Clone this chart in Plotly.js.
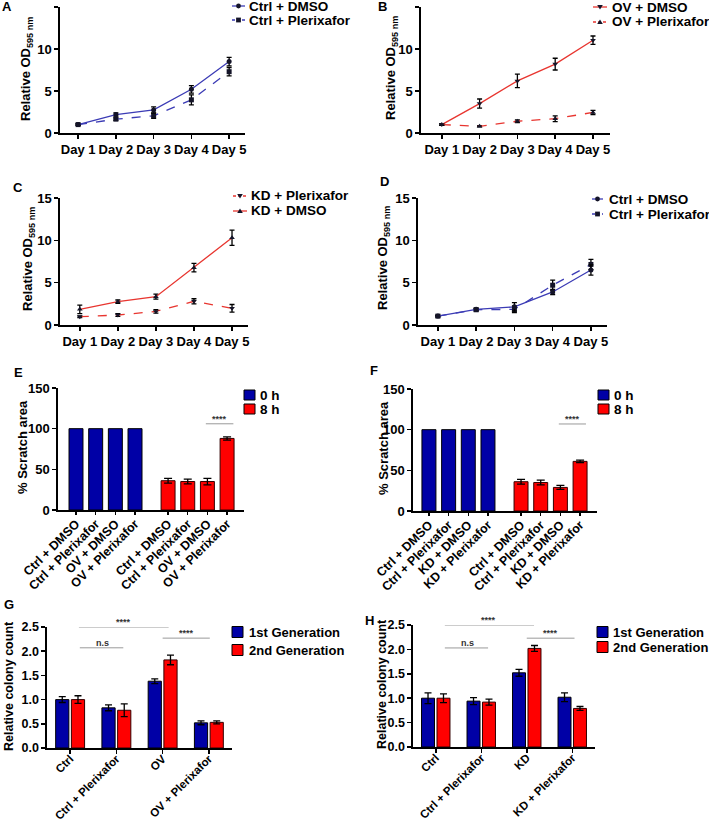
<!DOCTYPE html>
<html><head><meta charset="utf-8">
<script src="https://cdn.plot.ly/plotly-3.0.1.min.js"></script>
<style>html,body{margin:0;padding:0;background:#fff}#chart{width:709px;height:825px}</style>
</head><body><div id="chart"></div>
<script>
// ---------------- DATA ----------------
const days = ['Day 1', 'Day 2', 'Day 3', 'Day 4', 'Day 5'];

// Panel A
const aCtrlDmso = [1.0, 2.2, 2.75, 5.2, 8.5];
const aCtrlDmsoErr = [0.1, 0.2, 0.35, 0.45, 0.5];
const aCtrlPlx = [1.0, 1.65, 2.05, 3.95, 7.3];
const aCtrlPlxErr = [0.1, 0.15, 0.3, 0.6, 0.5];
// Panel B
const bOvDmso = [1.0, 3.5, 6.2, 8.2, 11.05];
const bOvDmsoErr = [0.1, 0.55, 0.8, 0.7, 0.5];
const bOvPlx = [1.0, 0.8, 1.4, 1.7, 2.45];
const bOvPlxErr = [0.1, 0.08, 0.15, 0.35, 0.25];
// Panel C
const cKdPlx = [0.98, 1.18, 1.6, 2.8, 1.97];
const cKdPlxErr = [0.1, 0.15, 0.2, 0.3, 0.45];
const cKdDmso = [1.85, 2.75, 3.35, 6.77, 10.3];
const cKdDmsoErr = [0.5, 0.2, 0.3, 0.5, 0.9];
// Panel D
const dCtrlDmso = [1.05, 1.85, 2.15, 3.9, 6.5];
const dCtrlDmsoErr = [0.08, 0.1, 0.5, 0.3, 0.6];
const dCtrlPlx = [1.05, 1.8, 1.85, 4.7, 7.15];
const dCtrlPlxErr = [0.08, 0.15, 0.4, 0.6, 0.6];

// Panel E / F (scratch)
const eLabels = ['Ctrl + DMSO', 'Ctrl + Plerixafor', 'OV + DMSO', 'OV + Plerixafor'];
const fLabels = ['Ctrl + DMSO', 'Ctrl + Plerixafor', 'KD + DMSO', 'KD + Plerixafor'];
const e0h = [100, 100, 100, 100];
const e8h = [36, 35, 35, 88];
const e8hErr = [3, 3, 4, 2];
const f0h = [100, 100, 100, 100];
const f8h = [36, 35, 29, 61];
const f8hErr = [3, 3, 2.5, 1.5];

// Panel G / H (colony)
const gGroups = ['Ctrl', 'Ctrl + Plerixafor', 'OV', 'OV + Plerixafor'];
const hGroups = ['Ctrl', 'Ctrl + Plerixafor', 'KD', 'KD + Plerixafor'];
const g1st = [1.00, 0.83, 1.38, 0.52];
const g1stErr = [0.06, 0.06, 0.05, 0.04];
const g2nd = [1.00, 0.78, 1.82, 0.53];
const g2ndErr = [0.08, 0.13, 0.10, 0.03];
const h1st = [1.00, 0.94, 1.52, 1.02];
const h1stErr = [0.11, 0.07, 0.07, 0.09];
const h2nd = [1.00, 0.92, 2.02, 0.79];
const h2ndErr = [0.09, 0.06, 0.06, 0.04];

// ---------------- STYLE / LAYOUT ----------------
const W = 709, H = 825;
const px = v => v / W, py = v => 1 - v / H;
const FONT = 'Liberation Sans, Arial, sans-serif';
const BLUE_LINE = '#3b3bb5', RED_LINE = '#e8352f';
const BAR_BLUE = '#0000a6', BAR_RED = '#ff0000';
const MK = '#141428';
const bf = s => ({family: FONT, size: s, color: '#000', weight: 'bold'});

const data = [];
const shapes = [];
const annotations = [];
const layout = {
  width: W, height: H, margin: {l: 0, r: 0, t: 0, b: 0},
  paper_bgcolor: '#fff', plot_bgcolor: 'rgba(0,0,0,0)',
  showlegend: false,
  font: bf(12),
  barmode: 'group', bargap: 0.32, bargroupgap: 0.16,
  shapes, annotations
};

const baseAxis = {
  showline: true, linecolor: '#000', linewidth: 1.6,
  ticks: 'outside', ticklen: 4, tickwidth: 1.5, tickcolor: '#000',
  showgrid: false, zeroline: false, fixedrange: true,
  tickfont: bf(13)
};
function sfx(n) { return n === 1 ? '' : String(n); }
function addAxes(n, x0, x1, y0, y1, xopt, yopt) {
  layout['xaxis' + sfx(n)] = Object.assign({}, baseAxis, {domain: [px(x0), px(x1)], anchor: 'y' + sfx(n)}, xopt);
  layout['yaxis' + sfx(n)] = Object.assign({}, baseAxis, {domain: [py(y1), py(y0)], anchor: 'x' + sfx(n)}, yopt);
}

// line panels
const odY = {range: [0, 15], tickvals: [0, 5, 10, 15]};
addAxes(1, 60, 245, 7, 133, {type: 'category', range: [-0.48, 4.42]}, odY);
addAxes(2, 421, 610, 7, 133, {type: 'category', range: [-0.55, 4.45]}, odY);
addAxes(3, 60, 248, 198, 325, {type: 'category', range: [-0.52, 4.42]}, odY);
addAxes(4, 418, 607, 198, 325, {type: 'category', range: [-0.52, 4.42]}, odY);

function lineTrace(n, y, err, color, dash, symbol) {
  data.push({
    type: 'scatter', mode: 'lines+markers', x: days, y,
    xaxis: 'x' + sfx(n), yaxis: 'y' + sfx(n),
    line: {color, width: 1.3, dash},
    marker: {symbol, size: 5, color: MK},
    error_y: {type: 'data', array: err, color: '#000', thickness: 1.3, width: 2.5},
    cliponaxis: false
  });
}
lineTrace(1, aCtrlPlx, aCtrlPlxErr, BLUE_LINE, 'dash', 'square');
lineTrace(1, aCtrlDmso, aCtrlDmsoErr, BLUE_LINE, 'solid', 'circle');
lineTrace(2, bOvPlx, bOvPlxErr, RED_LINE, 'dash', 'triangle-up');
lineTrace(2, bOvDmso, bOvDmsoErr, RED_LINE, 'solid', 'triangle-down');
lineTrace(3, cKdPlx, cKdPlxErr, RED_LINE, 'dash', 'triangle-down');
lineTrace(3, cKdDmso, cKdDmsoErr, RED_LINE, 'solid', 'triangle-up');
lineTrace(4, dCtrlPlx, dCtrlPlxErr, BLUE_LINE, 'dash', 'square');
lineTrace(4, dCtrlDmso, dCtrlDmsoErr, BLUE_LINE, 'solid', 'circle');

// scratch panels (positions: 4 bars, gap, 4 bars)
const GAP = 0.68, BW = 0.71;
const pos0 = e0h.map((_, i) => i);
const pos8 = e8h.map((_, i) => i + 4 + GAP);
const scratchX = {tickangle: -45, ticklen: 3, tickfont: bf(12.5), ticklabelstandoff: -3};
addAxes(5, 58, 244, 388, 510, Object.assign({range: [-0.915, 8.54], tickvals: pos0.concat(pos8), ticktext: eLabels.concat(eLabels)}, scratchX),
  {range: [0, 150], tickvals: [0, 50, 100, 150]});
addAxes(6, 413, 597, 389, 511, Object.assign({range: [-0.81, 8.54], tickvals: pos0.concat(pos8), ticktext: fLabels.concat(fLabels)}, scratchX),
  {range: [0, 150], tickvals: [0, 50, 100, 150]});

function scratchBars(n, y0, y8, err8) {
  data.push({type: 'bar', x: pos0, y: y0, width: BW, offset: -BW / 2, xaxis: 'x' + sfx(n), yaxis: 'y' + sfx(n),
    marker: {color: BAR_BLUE, line: {color: '#000', width: 1}}});
  data.push({type: 'bar', x: pos8, y: y8, width: BW, offset: -BW / 2, xaxis: 'x' + sfx(n), yaxis: 'y' + sfx(n),
    marker: {color: BAR_RED, line: {color: '#300', width: 1}},
    error_y: {type: 'data', array: err8, color: '#000', thickness: 1.3, width: 4}});
}
scratchBars(5, e0h, e8h, e8hErr);
scratchBars(6, f0h, f8h, f8hErr);

// colony panels
const colX = {type: 'category', range: [-0.5, 3.5], tickangle: -45, tickfont: bf(11.5), ticklabelstandoff: -6};
const colY = {range: [0, 2.5], tickvals: [0, 0.5, 1.0, 1.5, 2.0, 2.5], tickformat: '.1f', tickfont: bf(12.5)};
addAxes(7, 47, 232, 627, 748, colX, colY);
addAxes(8, 413, 595, 625, 747, colX, colY);
function colonyBars(n, groups, y1, e1, y2, e2) {
  data.push({type: 'bar', x: groups, y: y1, xaxis: 'x' + sfx(n), yaxis: 'y' + sfx(n),
    marker: {color: BAR_BLUE, line: {color: '#000', width: 1}},
    error_y: {type: 'data', array: e1, color: '#000', thickness: 1.3, width: 3.5}});
  data.push({type: 'bar', x: groups, y: y2, xaxis: 'x' + sfx(n), yaxis: 'y' + sfx(n),
    marker: {color: BAR_RED, line: {color: '#300', width: 1}},
    error_y: {type: 'data', array: e2, color: '#000', thickness: 1.3, width: 3.5}});
}
colonyBars(7, gGroups, g1st, g1stErr, g2nd, g2ndErr);
colonyBars(8, hGroups, h1st, h1stErr, h2nd, h2ndErr);

// ---------------- ANNOTATIONS ----------------
function txt(x, y, text, opt) {
  annotations.push(Object.assign({xref: 'paper', yref: 'paper', x: px(x), y: py(y), text, showarrow: false, borderpad: 0,
    xanchor: 'center', yanchor: 'middle', font: bf(12.5)}, opt || {}));
}
// panel letters
[['A', 7, 6], ['B', 382, 6], ['C', 18, 187], ['D', 384, 182], ['E', 18, 372], ['F', 374, 370], ['G', 9, 604], ['H', 369, 620]]
  .forEach(([t, x, y]) => txt(x, y, t, {font: bf(13)}));
// y titles
const odTitle = 'Relative OD<sub>595 nm</sub>';
txt(27, 69, odTitle, {textangle: -90, font: bf(13)});
txt(392, 68, odTitle, {textangle: -90, font: bf(13)});
txt(28, 259, odTitle, {textangle: -90, font: bf(13)});
txt(383, 258, odTitle, {textangle: -90, font: bf(13)});
txt(22, 447, '% Scratch area', {textangle: -90, font: bf(13)});
txt(383, 448, '% Scratch area', {textangle: -90, font: bf(13)});
txt(9, 686, 'Relative colony count', {textangle: -90});
txt(382, 684, 'Relative colony count', {textangle: -90});

// line legends
function mkShape(symbol, cx, cy) {
  const s = 2.4;
  const base = {xref: 'paper', yref: 'paper', fillcolor: MK, line: {width: 0}};
  if (symbol === 'circle') shapes.push(Object.assign({type: 'circle', x0: px(cx - s), x1: px(cx + s), y0: py(cy + s), y1: py(cy - s)}, base));
  else if (symbol === 'square') shapes.push(Object.assign({type: 'rect', x0: px(cx - s), x1: px(cx + s), y0: py(cy + s), y1: py(cy - s)}, base));
  else if (symbol === 'triangle-down') shapes.push(Object.assign({type: 'path',
    path: `M ${px(cx - 2.8)},${py(cy - 2)} L ${px(cx + 2.8)},${py(cy - 2)} L ${px(cx)},${py(cy + 2.6)} Z`}, base));
  else shapes.push(Object.assign({type: 'path',
    path: `M ${px(cx - 2.8)},${py(cy + 2)} L ${px(cx + 2.8)},${py(cy + 2)} L ${px(cx)},${py(cy - 2.6)} Z`}, base));
}
function lineLegend(x0, x1, y, dash, color, symbol, text, tx) {
  shapes.push({type: 'line', xref: 'paper', yref: 'paper', x0: px(x0), x1: px(x1), y0: py(y), y1: py(y),
    line: {color, width: 1.3, dash: dash === 'dash' ? '3px,2px' : 'solid'}});
  mkShape(symbol, (x0 + x1) / 2, y);
  txt(tx, y, text, {xanchor: 'left', font: bf(13.5)});
}
lineLegend(232, 245, 6, 'solid', BLUE_LINE, 'circle', 'Ctrl + DMSO', 248);
lineLegend(232, 245, 20, 'dash', BLUE_LINE, 'square', 'Ctrl + Plerixafor', 248);
lineLegend(593, 607, 7, 'solid', RED_LINE, 'triangle-down', 'OV + DMSO', 611);
lineLegend(593, 607, 22, 'dash', RED_LINE, 'triangle-up', 'OV + Plerixafor', 611);
lineLegend(233, 247, 196, 'dash', RED_LINE, 'triangle-down', 'KD + Plerixafor', 250);
lineLegend(233, 247, 211, 'solid', RED_LINE, 'triangle-up', 'KD + DMSO', 250);
lineLegend(592, 603, 199, 'solid', BLUE_LINE, 'circle', 'Ctrl + DMSO', 608);
lineLegend(592, 603, 214, 'dash', BLUE_LINE, 'square', 'Ctrl + Plerixafor', 608);

// bar legends
function boxLegend(x0, y, color, text, tx, h, fs) {
  shapes.push({type: 'rect', xref: 'paper', yref: 'paper', x0: px(x0), x1: px(x0 + 11), y0: py(y + h / 2), y1: py(y - h / 2),
    fillcolor: color, line: {color: '#000', width: 1}});
  txt(tx, y, text, {xanchor: 'left', font: bf(fs)});
}
boxLegend(244, 395, BAR_BLUE, '0 h', 259, 10, 13.5);
boxLegend(244, 409, BAR_RED, '8 h', 259, 10, 13.5);
boxLegend(598, 395, BAR_BLUE, '0 h', 613, 10, 13.5);
boxLegend(598, 409, BAR_RED, '8 h', 613, 10, 13.5);
boxLegend(232, 632, BAR_BLUE, '1st Generation', 248, 11, 13);
boxLegend(232, 650, BAR_RED, '2nd Generation', 248, 11, 13);
boxLegend(597, 632, BAR_BLUE, '1st Generation', 612, 11, 13);
boxLegend(597, 647, BAR_RED, '2nd Generation', 612, 11, 13);

// significance brackets
function sig(n, x0, x1, y, text, tx) {
  shapes.push({type: 'line', xref: 'x' + sfx(n), yref: 'y' + sfx(n), x0, x1, y0: y, y1: y, line: {color: '#9a9a9a', width: 1}});
  annotations.push({xref: 'x' + sfx(n), yref: 'y' + sfx(n), x: tx, y, text, showarrow: false, xanchor: 'center', yanchor: 'bottom',
    yshift: -1, borderpad: 0, font: {family: FONT, size: 9, color: '#333', weight: 'bold'}});
}
sig(5, 6.6, 8.0, 106, '****', 7.3);
sig(6, 6.6, 7.98, 107, '****', 7.3);
sig(7, 0.19, 2.13, 2.5, '****', 1.15);
sig(7, 2.0, 3.02, 2.27, '****', 2.52);
sig(7, 0.21, 1.15, 2.07, 'n.s', 0.69);
sig(8, 0.2, 2.16, 2.5, '****', 1.15);
sig(8, 2.0, 3.05, 2.23, '****', 2.52);
sig(8, 0.2, 1.15, 2.03, 'n.s', 0.69);

Plotly.newPlot('chart', data, layout, {staticPlot: true, displayModeBar: false});
</script>
</body></html>
